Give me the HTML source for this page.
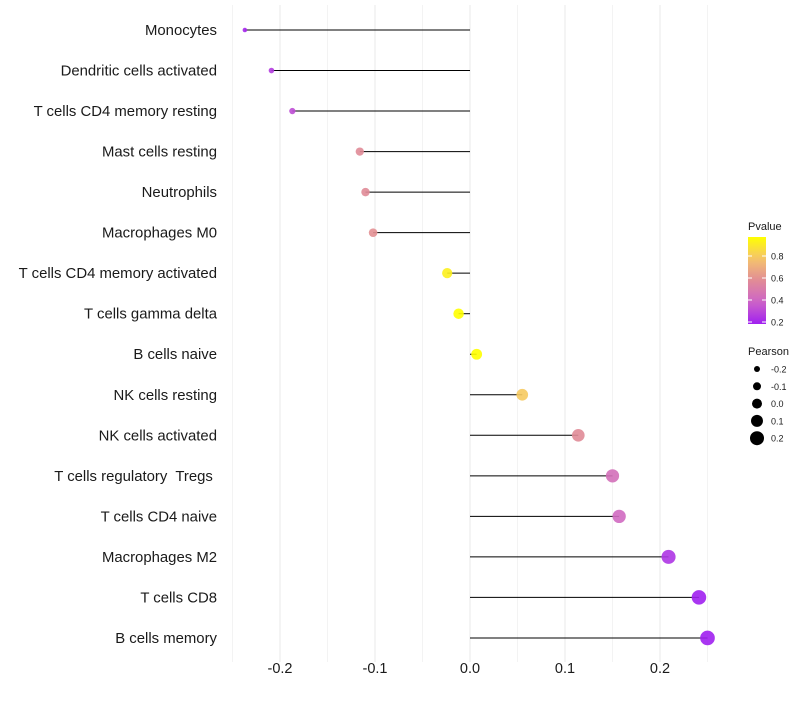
<!DOCTYPE html>
<html><head><meta charset="utf-8"><style>
body{margin:0;background:#fff;font-family:"Liberation Sans",sans-serif}
text{white-space:pre}
</style></head><body>
<svg id="c" width="800" height="700" xmlns="http://www.w3.org/2000/svg" xml:space="preserve"></svg>
<script>
const categories=["Monocytes","Dendritic cells activated","T cells CD4 memory resting","Mast cells resting","Neutrophils","Macrophages M0","T cells CD4 memory activated","T cells gamma delta","B cells naive","NK cells resting","NK cells activated","T cells regulatory  Tregs ","T cells CD4 naive","Macrophages M2","T cells CD8","B cells memory"];
const pearson=[-0.237,-0.209,-0.187,-0.116,-0.110,-0.102,-0.024,-0.012,0.007,0.055,0.114,0.150,0.157,0.209,0.241,0.250];
const pvalue=[0.22,0.28,0.33,0.58,0.58,0.6,0.92,0.97,0.99,0.8,0.58,0.45,0.42,0.26,0.2,0.2];
const xTicks=[-0.2,-0.1,0.0,0.1,0.2];
const xTickLabels=["-0.2","-0.1","0.0","0.1","0.2"];
const pTicks=[0.2,0.4,0.6,0.8];
const sizeTicks=[-0.2,-0.1,0.0,0.1,0.2];

const NS="http://www.w3.org/2000/svg";
const svg=document.getElementById('c');
function mk(t,a,p){const e=document.createElementNS(NS,t);for(const k in a)e.setAttribute(k,a[k]);(p||svg).appendChild(e);return e;}
const x=v=>470+v*950;
const y=i=>30+i*40.53;
const r=v=>Math.sqrt(Math.max(1,5+100*(v+0.237)));
function col(p){
  const t=Math.max(0,Math.min(1,(p-0.2)/0.77));
  const stops=[[160,32,240],[205,100,200],[225,140,150],[245,195,110],[255,255,0]];
  const s=t*(stops.length-1),i=Math.min(stops.length-2,Math.floor(s)),f=s-i;
  const c=stops[i].map((v,k)=>Math.round(v+(stops[i+1][k]-v)*f));
  return `rgb(${c[0]},${c[1]},${c[2]})`;
}
for(let v=-0.25;v<=0.2501;v+=0.05){
  const g=mk('line',{x1:x(v),x2:x(v),y1:5,y2:662,stroke:'#ebebeb','stroke-width':Math.abs(Math.round(v*100))%10===0?1.1:0.6});
  
  
}
categories.forEach((c,i)=>{
  const t=mk('text',{x:217,y:y(i)+5,'text-anchor':'end','font-size':14.9,fill:'#1a1a1a'});
  t.textContent=c;
  
  
  const l=mk('line',{x1:x(0),x2:x(pearson[i]),y1:y(i),y2:y(i),stroke:'#000','stroke-width':1});
  
  
  const d=mk('circle',{cx:x(pearson[i]),cy:y(i),r:r(pearson[i]),fill:col(pvalue[i]),'fill-opacity':0.9});
  
  
});
xTicks.forEach((v,i)=>{
  const t=mk('text',{x:x(v),y:673,'text-anchor':'middle','font-size':14.5,fill:'#1a1a1a'});
  t.textContent=xTickLabels[i];
  
  
});
const defs=mk('defs',{});
const lg=mk('linearGradient',{id:'pg',x1:0,y1:1,x2:0,y2:0},defs);
for(let k=0;k<=10;k++){mk('stop',{offset:k/10,'stop-color':col(0.2+k*0.077)},lg);}
const lt=mk('text',{x:748,y:230,'font-size':11,fill:'#1a1a1a'});lt.textContent='Pvalue';


const bar=mk('rect',{x:748,y:237,width:18,height:87,fill:'url(#pg)'});


const py=p=>322-(p-0.2)*110;
pTicks.forEach(p=>{
  mk('line',{x1:748,x2:752,y1:py(p),y2:py(p),stroke:'#fff'});
  mk('line',{x1:762,x2:766,y1:py(p),y2:py(p),stroke:'#fff'});
  const t=mk('text',{x:771,y:py(p)+3.5,'font-size':9,fill:'#1a1a1a'});t.textContent=p.toFixed(1);
  
  
});
const st=mk('text',{x:748,y:355,'font-size':11,fill:'#1a1a1a'});st.textContent='Pearson';


sizeTicks.forEach((v,i)=>{
  const cy=369+i*17.3;
  const d=mk('circle',{cx:757,cy:cy,r:3+i*1,fill:'#000'});
  
  
  const t=mk('text',{x:771,y:cy+3.5,'font-size':9,fill:'#1a1a1a'});t.textContent=v.toFixed(1);
  
  
});
</script>
</body></html>
